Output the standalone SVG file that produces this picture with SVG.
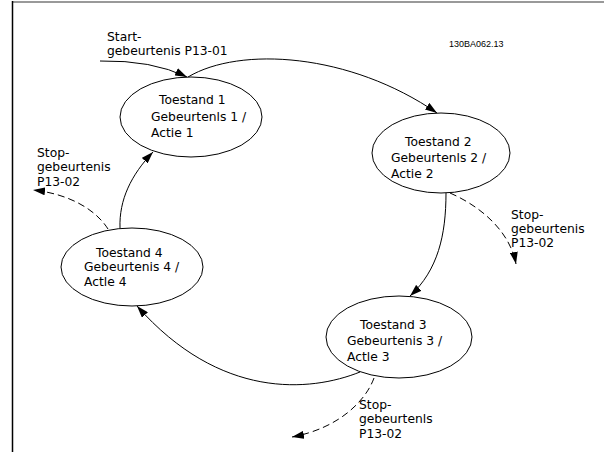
<svg xmlns="http://www.w3.org/2000/svg" width="604" height="452" viewBox="0 0 604 452">
<style>
.t{font-family:"DejaVu Sans","Liberation Sans",sans-serif;font-size:12.3px;fill:#000}
.code{font-family:"Liberation Sans",Arial,sans-serif;font-size:9px;fill:#000}
.node{fill:#fff;stroke:#000;stroke-width:1}
.c{fill:none;stroke:#000;stroke-width:1;marker-end:url(#ah)}
.d{stroke-dasharray:7,4}
</style>
<defs>
<marker id="ah" viewBox="0 0 12 8" refX="12" refY="4" markerWidth="12" markerHeight="8" markerUnits="userSpaceOnUse" orient="auto">
<path d="M0,0 L12,4 L0,8 Z" fill="#000"/>
</marker>
</defs>
<rect width="604" height="452" fill="#fff"/>
<line x1="12" y1="2" x2="604" y2="2" stroke="#777" stroke-width="1.5"/>
<line x1="12.5" y1="1" x2="12.5" y2="452" stroke="#000" stroke-width="1.5"/>
<text class="code" x="449" y="47">130BA062.13</text>

<g id="connectors">
<path class="c" d="M100,61 Q152,60 187,77"/>
<path class="c" d="M188,77 C240,46 350,53 437,113"/>
<path class="c" d="M446,193 C446,235 438,270 410,296"/>
<path class="c d" d="M450,193 C482,207 510,232 516,264"/>
<path class="c" d="M360,372 C310,392 220,400 137,306"/>
<path class="c d" d="M374,378 C366,400 340,428 292,437"/>
<path class="c" d="M120,228 C119,200 131,175 153,152"/>
<path class="c d" d="M108,229 C96,210 70,194 33,190"/>
</g>

<g id="start-label">
<text class="t" x="107" y="40.5">Start-</text>
<text class="t" x="107" y="54.5">gebeurtenis P13-01</text>
</g>

<g id="node1">
<ellipse class="node" cx="191" cy="117" rx="71" ry="40"/>
<text class="t" x="159" y="103.5">Toestand 1</text>
<text class="t" x="151" y="120.5">Gebeurtenls 1 /</text>
<text class="t" x="151" y="136.5">Actie 1</text>
</g>

<g id="node2">
<ellipse class="node" cx="441" cy="153" rx="69" ry="40"/>
<text class="t" x="405" y="145.5">Toestand 2</text>
<text class="t" x="391" y="161.5">Gebeurtenls 2 /</text>
<text class="t" x="391" y="177.5">Actie 2</text>
</g>

<g id="node3">
<ellipse class="node" cx="399" cy="337" rx="73" ry="41"/>
<text class="t" x="360" y="328.5">Toestand 3</text>
<text class="t" x="347" y="344.5">Gebeurtenis 3 /</text>
<text class="t" x="347" y="360.5">Actle 3</text>
</g>

<g id="node4">
<ellipse class="node" cx="132" cy="267" rx="71" ry="39"/>
<text class="t" x="96" y="256.5">Toestand 4</text>
<text class="t" x="84" y="271">Gebeurtenis 4 /</text>
<text class="t" x="84" y="285.5">Actle 4</text>
</g>

<g id="stop-labels">
<text class="t" x="37" y="156.5">Stop-</text>
<text class="t" x="37" y="171">gebeurtenis</text>
<text class="t" x="37" y="185.5">P13-02</text>
<text class="t" x="511" y="218.5">Stop-</text>
<text class="t" x="511" y="232.5">gebeurtenis</text>
<text class="t" x="511" y="247">P13-02</text>
<text class="t" x="359" y="408.5">Stop-</text>
<text class="t" x="359" y="423">gebeurtenls</text>
<text class="t" x="359" y="437.5">P13-02</text>
</g>
</svg>
